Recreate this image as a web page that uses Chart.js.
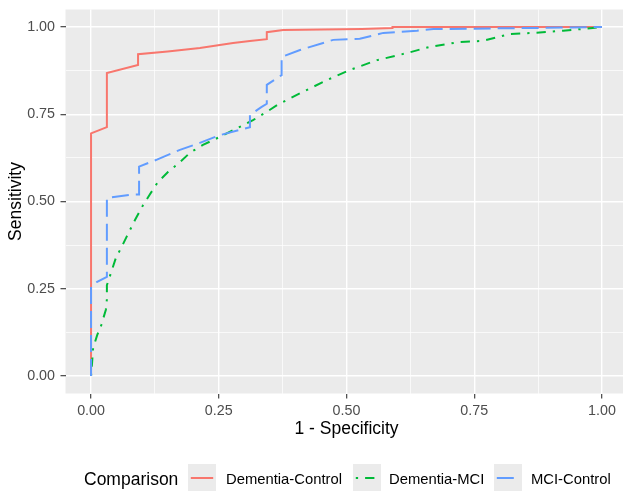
<!DOCTYPE html>
<html>
<head>
<meta charset="utf-8">
<script src="https://cdn.jsdelivr.net/npm/chart.js@4.4.1/dist/chart.umd.min.js"></script>
<style>
  html, body { margin: 0; padding: 0; background: #fff; overflow: hidden; }
  #wrap { position: relative; width: 628px; height: 491px; font-family: "Liberation Sans", Arial, sans-serif; }
  #roc { position: absolute; left: 0; top: 0; }
  .lg { position: absolute; white-space: nowrap; line-height: 1; }
  .key { position: absolute; top: 464px; width: 28px; height: 28px; background: #EBEBEB; }
</style>
</head>
<body>
<div id="wrap">
  <canvas id="roc" width="628" height="491"></canvas>
  <div class="lg" style="left:84px; top:471px; font-size:17.5px; color:#000;">Comparison</div>
  <div class="key" style="left:188px;"><svg width="28" height="28"><line x1="2.8" y1="14" x2="25.2" y2="14" stroke="#F8766D" stroke-width="2"/></svg></div>
  <div class="lg" style="left:226px; top:472px; font-size:14.8px;">Dementia-Control</div>
  <div class="key" style="left:353px;"><svg width="28" height="28"><line x1="2.8" y1="14" x2="25.2" y2="14" stroke="#00BA38" stroke-width="2" stroke-dasharray="2.3 7 9.3 7"/></svg></div>
  <div class="lg" style="left:389px; top:472px; font-size:14.8px;">Dementia-MCI</div>
  <div class="key" style="left:494px;"><svg width="28" height="28"><line x1="2.8" y1="14" x2="25.2" y2="14" stroke="#619CFF" stroke-width="2" stroke-dasharray="17 7"/></svg></div>
  <div class="lg" style="left:531px; top:472px; font-size:14.8px;">MCI-Control</div>
</div>
<script>
// Curvas ROC
const dcX = [0, 0, 0.031, 0.031, 0.092, 0.092, 0.15, 0.213, 0.278, 0.311, 0.344, 0.344, 0.376, 0.53, 0.59, 0.59, 1];
const dcY = [0, 0.695, 0.713, 0.868, 0.891, 0.922, 0.93, 0.94, 0.954, 0.96, 0.965, 0.985, 0.991, 0.994, 0.997, 1.0, 1.0];

const dmX = [0, 0.002, 0.004, 0.012, 0.02, 0.029, 0.031, 0.031, 0.04, 0.049, 0.06, 0.07, 0.086, 0.102, 0.115, 0.131, 0.151, 0.174, 0.194, 0.219, 0.252, 0.286, 0.317, 0.344, 0.364, 0.409, 0.462, 0.507, 0.56, 0.618, 0.663, 0.722, 0.767, 0.82, 0.865, 0.924, 0.982, 1];
const dmY = [0, 0.037, 0.08, 0.117, 0.146, 0.19, 0.22, 0.26, 0.30, 0.34, 0.37, 0.40, 0.447, 0.49, 0.52, 0.556, 0.585, 0.613, 0.64, 0.662, 0.685, 0.71, 0.733, 0.757, 0.776, 0.81, 0.848, 0.877, 0.905, 0.925, 0.943, 0.957, 0.96, 0.98, 0.983, 0.989, 0.997, 1];

const mcX = [0, 0, 0.012, 0.031, 0.031, 0.080, 0.094, 0.094, 0.129, 0.174, 0.213, 0.252, 0.311, 0.311, 0.334, 0.344, 0.344, 0.373, 0.373, 0.409, 0.474, 0.526, 0.572, 0.638, 0.67, 0.865, 1];
const mcY = [0, 0.255, 0.27, 0.284, 0.51, 0.52, 0.52, 0.60, 0.62, 0.648, 0.668, 0.69, 0.713, 0.748, 0.771, 0.78, 0.834, 0.862, 0.914, 0.934, 0.963, 0.966, 0.983, 0.989, 0.994, 0.997, 1];

const majorTicks = [0, 0.25, 0.5, 0.75, 1];
const tickLabels = ["0.00", "0.25", "0.50", "0.75", "1.00"];
const gridVals = [0, 0.125, 0.25, 0.375, 0.5, 0.625, 0.75, 0.875, 1];

function pts(xs, ys) {
  return xs.map((x, i) => ({ x: x, y: ys[i] }));
}
function isMajor(v) {
  return majorTicks.some(m => Math.abs(m - v) < 1e-9);
}
function labelFor(v) {
  const i = majorTicks.findIndex(m => Math.abs(m - v) < 1e-9);
  return i >= 0 ? tickLabels[i] : '';
}

// fondo gris del panel
const panelBg = {
  id: 'panelBg',
  beforeDraw(chart) {
    const a = chart.chartArea, ctx = chart.ctx;
    ctx.save();
    ctx.fillStyle = '#EBEBEB';
    ctx.fillRect(a.left, a.top, a.right - a.left, a.bottom - a.top);
    ctx.restore();
  }
};

function axis(title, isY) {
  return {
    type: 'linear',
    min: -0.05,
    max: 1.05,
    afterBuildTicks: s => { s.ticks = gridVals.map(v => ({ value: v })); },
    afterFit: s => {
      if (isY) s.width = 65.5; else s.height = 47;
      // sin relleno extra por las etiquetas de los extremos
      s.paddingTop = 0; s.paddingBottom = 0; s.paddingLeft = 0; s.paddingRight = 0;
    },
    border: { display: false },
    grid: {
      color: '#FFFFFF',
      lineWidth: c => isMajor(c.tick.value) ? 1.4 : 0.7,
      tickColor: c => isMajor(c.tick.value) ? '#333333' : 'rgba(0,0,0,0)',
      tickLength: 5,
      tickWidth: 1.1,
      drawTicks: true
    },
    ticks: {
      autoSkip: false,
      maxRotation: 0,
      padding: isY ? 5.5 : 3.5,
      color: '#4D4D4D',
      font: { family: '"Liberation Sans", Arial, sans-serif', size: 14.3 },
      callback: v => labelFor(v)
    },
    title: {
      display: true,
      text: title,
      color: '#000000',
      font: { family: '"Liberation Sans", Arial, sans-serif', size: 17.5 },
      padding: isY ? { top: 5.5, bottom: 0 } : { top: 0, bottom: 1 }
    }
  };
}

new Chart(document.getElementById('roc'), {
  type: 'scatter',
  data: {
    datasets: [
      { label: 'Dementia-Control', data: pts(dcX, dcY), borderColor: '#F8766D', borderWidth: 2, order: 2 },
      { label: 'Dementia-MCI', data: pts(dmX, dmY), borderColor: '#00BA38', borderWidth: 2, borderDash: [2.3, 7, 9.3, 7], order: 1 },
      { label: 'MCI-Control', data: pts(mcX, mcY), borderColor: '#619CFF', borderWidth: 2, borderDash: [17, 7], order: 0 }
    ]
  },
  options: {
    responsive: false,
    animation: false,
    devicePixelRatio: 1,
    showLine: true,
    elements: { point: { radius: 0, hoverRadius: 0 }, line: { tension: 0, fill: false } },
    layout: { padding: { top: 9.5, right: 0.5, bottom: 50.5, left: 0 } },
    plugins: { legend: { display: false }, tooltip: { enabled: false } },
    scales: {
      x: axis('1 - Specificity', false),
      y: axis('Sensitivity', true)
    }
  },
  plugins: [panelBg]
});
</script>
</body>
</html>
